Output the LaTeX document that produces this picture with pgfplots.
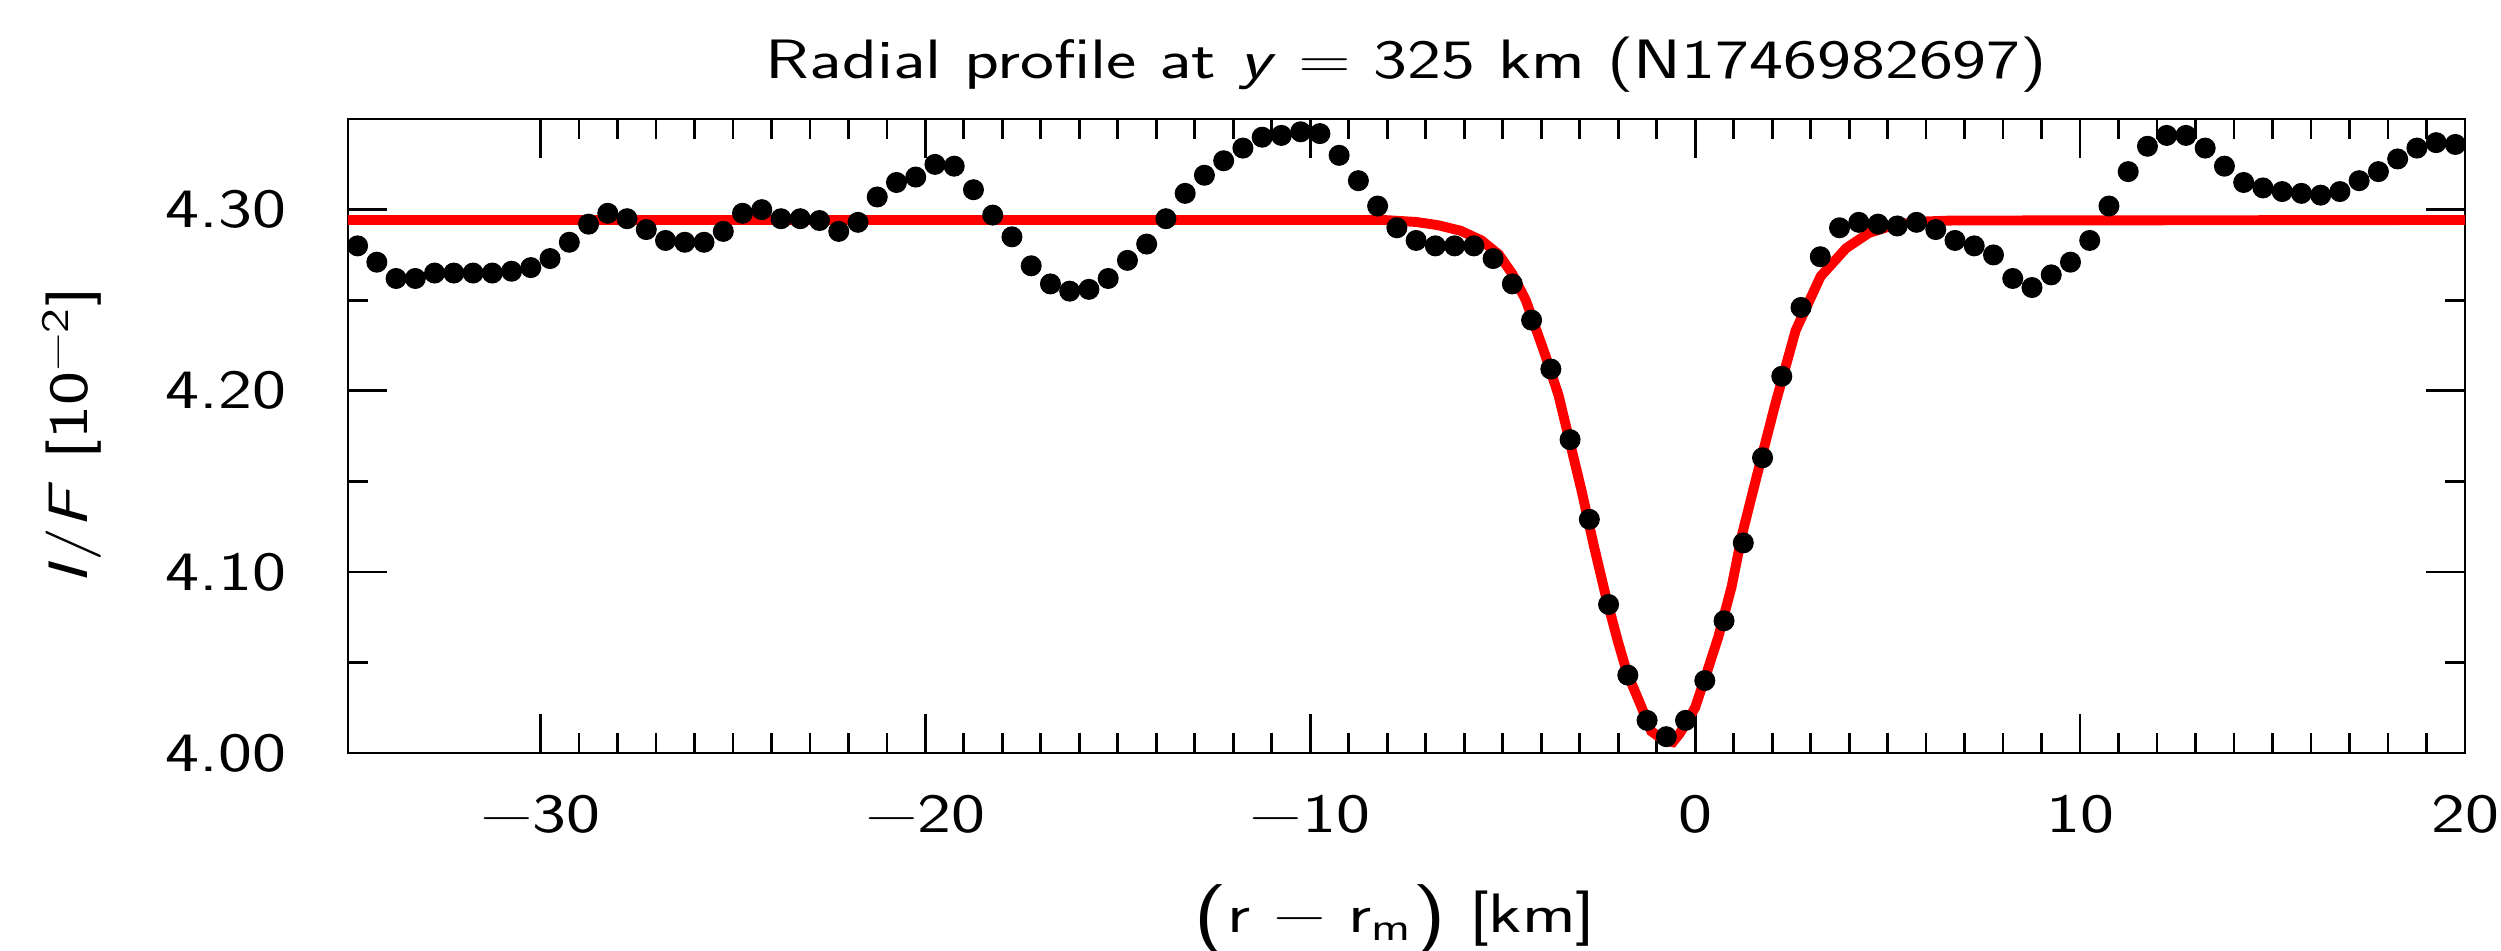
\documentclass[border=0pt]{standalone}
\usepackage{fontspec}
\setsansfont{Latin Modern Sans}[FakeStretch=1.3]
\usepackage{pgfplots}
\pgfplotsset{compat=1.18}

\pgfplotstableread{
x y
-34.75 4.280
-34.25 4.271
-33.75 4.262
-33.25 4.262
-32.75 4.265
-32.25 4.265
-31.75 4.265
-31.25 4.265
-30.75 4.266
-30.25 4.268
-29.75 4.273
-29.25 4.282
-28.75 4.292
-28.25 4.298
-27.75 4.295
-27.25 4.289
-26.75 4.283
-26.25 4.282
-25.75 4.282
-25.25 4.288
-24.75 4.298
-24.25 4.300
-23.75 4.295
-23.25 4.295
-22.75 4.294
-22.25 4.288
-21.75 4.293
-21.25 4.307
-20.75 4.315
-20.25 4.318
-19.75 4.325
-19.25 4.324
-18.75 4.311
-18.25 4.297
-17.75 4.285
-17.25 4.269
-16.75 4.259
-16.25 4.255
-15.75 4.256
-15.25 4.262
-14.75 4.272
-14.25 4.281
-13.75 4.295
-13.25 4.309
-12.75 4.319
-12.25 4.327
-11.75 4.334
-11.25 4.340
-10.75 4.341
-10.25 4.343
-9.75 4.342
-9.25 4.330
-8.75 4.316
-8.25 4.302
-7.75 4.290
-7.25 4.283
-6.75 4.280
-6.25 4.280
-5.75 4.280
-5.25 4.273
-4.75 4.259
-4.25 4.239
-3.75 4.212
-3.25 4.173
-2.75 4.129
-2.25 4.082
-1.75 4.043
-1.25 4.018
-0.75 4.009
-0.25 4.018
0.25 4.040
0.75 4.073
1.25 4.116
1.75 4.163
2.25 4.208
2.75 4.246
3.25 4.274
3.75 4.290
4.25 4.293
4.75 4.292
5.25 4.291
5.75 4.293
6.25 4.289
6.75 4.283
7.25 4.280
7.75 4.275
8.25 4.262
8.75 4.257
9.25 4.264
9.75 4.271
10.25 4.283
10.75 4.302
11.25 4.321
11.75 4.335
12.25 4.341
12.75 4.341
13.25 4.334
13.75 4.324
14.25 4.315
14.75 4.312
15.25 4.310
15.75 4.309
16.25 4.308
16.75 4.310
17.25 4.316
17.75 4.321
18.25 4.328
18.75 4.334
19.25 4.337
19.75 4.336
}\obsdata

% fitted model
\pgfplotstableread{
x y
-35.00 4.2943
-8.10 4.2943
-7.25 4.2932
-6.70 4.2915
-6.10 4.2884
-5.55 4.2830
-5.10 4.2752
-4.75 4.2645
-4.40 4.2500
-3.90 4.2200
-3.55 4.1975
-3.25 4.1711
-2.95 4.1447
-2.65 4.1160
-2.33 4.0873
-2.00 4.0610
-1.77 4.0443
-1.46 4.0287
-1.14 4.0120
-0.83 4.0072
-0.58 4.0060
-0.40 4.0108
0.00 4.0251
0.30 4.0443
0.60 4.0640
0.95 4.0921
1.22 4.1208
1.56 4.1495
2.08 4.1926
2.61 4.2333
3.26 4.2632
3.92 4.2787
4.51 4.2871
5.10 4.2911
5.75 4.2933
6.67 4.2940
20.00 4.2943
}\modeldata

\newcommand{\lblfont}{\sffamily\fontsize{18.5}{22}\selectfont}
\newcommand{\bigparen}[1]{\raisebox{-0.12em}{\fontsize{24}{24}\selectfont #1}}

\begin{document}
\begin{tikzpicture}
\begin{axis}[
  name=ax,
  scale only axis,
  width=705.7pt, height=211.3pt,
  xmin=-35, xmax=20, ymin=4.00, ymax=4.35,
  xtick={-30,-20,-10,0,10,20},
  xticklabels={−30,−20,−10,0,10,20},
  ytick={4.00,4.10,4.20,4.30},
  yticklabels={4.00,4.10,4.20,4.30},
  minor x tick num=9,
  minor y tick num=1,
  tick align=inside,
  major tick length=13pt,
  minor tick length=6.7pt,
  every tick/.style={black, line width=0.9pt},
  axis line style={line width=0.9pt},
  tick label style={font=\lblfont},
  yticklabel style={xshift=-17pt},
  xticklabel style={yshift=-10.7pt},
  title={Radial profile at \textit{y} = 325 km (N1746982697)},
  every axis title/.style={at={([yshift=18pt]axis description cs:0.5,1)}, anchor=center, font=\lblfont},
  xlabel={\bigparen{(}r − r\textsubscript{m}\bigparen{)} [km]},
  every axis x label/.style={at={([xshift=-4pt,yshift=-56pt]axis description cs:0.5,0)}, anchor=center, font=\lblfont},
  ylabel={\textit{I}/\textit{F} [10\textsuperscript{−2}]},
  every axis y label/.style={at={([xshift=-92pt]axis description cs:0,0.5)}, rotate=90, anchor=center, font=\lblfont},
  clip=true,
]
\addplot[red, line width=3.3pt, no markers] table {\modeldata};
\addplot[only marks, mark=*, mark size=3.3pt, black] table {\obsdata};
\end{axis}
\pgfresetboundingbox
\path[use as bounding box] ([xshift=-116pt,yshift=-66pt]ax.south west) rectangle ([xshift=12pt,yshift=39.7pt]ax.north east);
\end{tikzpicture}
\end{document}
